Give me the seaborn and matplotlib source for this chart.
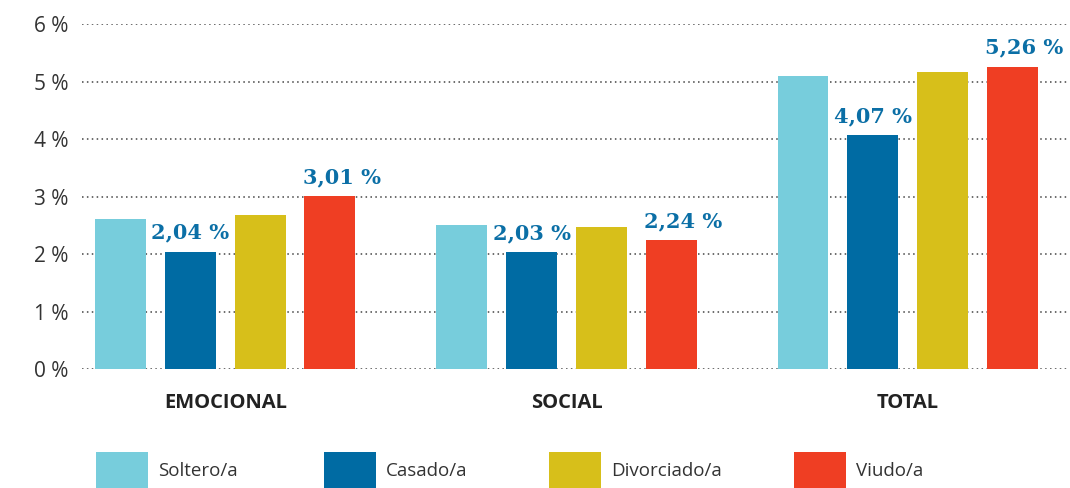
import matplotlib
matplotlib.use("Agg")
import matplotlib.pyplot as plt
import seaborn as sns
import pandas as pd
from matplotlib.patches import Rectangle

# ---- data ----
categories = ["EMOCIONAL", "SOCIAL", "TOTAL"]
series = ["Soltero/a", "Casado/a", "Divorciado/a", "Viudo/a"]
soltero = [2.61, 2.51, 5.10]
casado = [2.04, 2.03, 4.07]
divorciado = [2.68, 2.47, 5.17]
viudo = [3.01, 2.24, 5.26]
labeled_series = ["Casado/a", "Viudo/a"]
yticks = [0, 1, 2, 3, 4, 5, 6]

colors = ["#77CDDC", "#006BA3", "#D7BF1A", "#EF3E23"]
label_color = "#0B6FA6"

rows = []
for s, vals in zip(series, [soltero, casado, divorciado, viudo]):
    for c, v in zip(categories, vals):
        rows.append({"cat": c, "serie": s, "val": v})
df = pd.DataFrame(rows)

sns.set_theme(style="white")
plt.rcParams["font.family"] = ["Open Sans", "DejaVu Sans"]

fig = plt.figure(figsize=(10.70, 4.88), dpi=100)
W, H = 1070, 488
ax = fig.add_axes([82 / W, (H - 369.3) / H, (1068 - 82) / W, (369.3 - 24) / H])

sns.barplot(data=df, x="cat", y="val", hue="serie", order=categories,
            hue_order=series, palette=colors, width=0.818, gap=0.27,
            saturation=1, ax=ax, legend=False, zorder=3, linewidth=0)

ax.set_ylim(0, 6)
ax.set_xlim(-0.42, 2.47)
ax.set_yticks(yticks)
ax.set_yticklabels([f"{t} %" for t in yticks], fontsize=15, color="#333333")
ax.set_xlabel("")
ax.set_ylabel("")
ax.tick_params(axis="y", length=0, pad=10)
ax.tick_params(axis="x", length=0, pad=17)
for lab in ax.get_xticklabels():
    lab.set_fontweight("bold")
    lab.set_fontsize(14.5)
    lab.set_color("#222222")
for sp in ax.spines.values():
    sp.set_visible(False)
ax.yaxis.grid(True, linestyle=(0, (1, 2.2)), color="#444444", linewidth=1.1, zorder=0)
ax.xaxis.grid(False)
ax.set_axisbelow(True)

# value labels
for s, cont in zip(series, ax.containers):
    if s not in labeled_series:
        continue
    dx = 0 if s == "Casado/a" else 8.5
    for bar in cont:
        h = bar.get_height()
        txt = f"{h:.2f}".replace(".", ",") + " %"
        ax.annotate(txt, (bar.get_x() + bar.get_width() / 2, h),
                    xytext=(dx, 9.5), textcoords="offset points",
                    ha="center", va="baseline", fontsize=15,
                    fontweight="bold", color=label_color,
                    family="DejaVu Serif", zorder=5)

# legend (manual)
leg_x = [96, 324, 549, 794]
for s, c, x0 in zip(series, colors, leg_x):
    fig.add_artist(Rectangle((x0 / W, 0), 52 / W, (H - 452) / H,
                             transform=fig.transFigure, facecolor=c,
                             edgecolor="none"))
    fig.text((x0 + 62) / W, (H - 471) / H, s, fontsize=13.5,
             color="#333333", va="center", ha="left")

fig.savefig("out.png", dpi=100)
